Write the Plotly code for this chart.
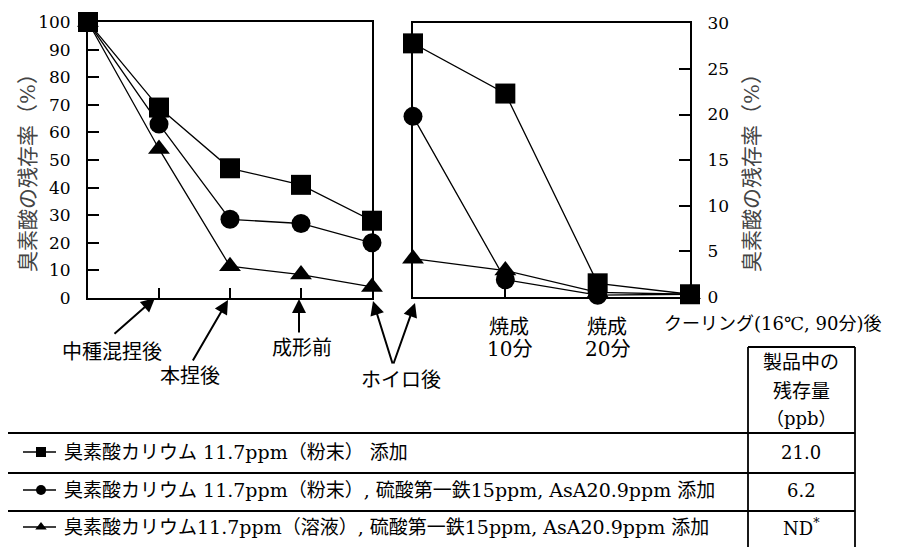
import plotly.graph_objects as go

W, H = 903, 547
OFF = 8  # page body margin in the browser

# ---------------- data ----------------
left_stages = ["添加直後", "中種混捏後", "本捏後", "成形前", "ホイロ後"]
right_stages = ["ホイロ後", "焼成10分", "焼成20分", "クーリング後"]

left_square = [100, 69, 47, 41, 28]
left_circle = [100, 63, 28.5, 27, 20]
left_triangle = [100, 54, 11.5, 8.5, 4]

right_square = [27.8, 22.3, 1.5, 0.3]
right_circle = [19.8, 1.9, 0.2, 0.3]
right_triangle = [4.2, 2.9, 0.5, 0.3]

left_ticks = [0, 10, 20, 30, 40, 50, 60, 70, 80, 90, 100]
right_ticks = [0, 5, 10, 15, 20, 25, 30]

series_labels = [
    "臭素酸カリウム 11.7ppm（粉末） 添加",
    "臭素酸カリウム 11.7ppm（粉末）, 硫酸第一鉄15ppm, AsA20.9ppm 添加",
    "臭素酸カリウム11.7ppm（溶液）, 硫酸第一鉄15ppm, AsA20.9ppm 添加",
]
residual_ppb = ["21.0", "6.2", "ND<sup>*</sup>"]
y_title = "臭素酸の残存率（%）"

# ---------------- styles ----------------
FONT = "DejaVu Serif, Noto Sans CJK JP, serif"
symbols = ["square", "circle", "triangle-up"]
sizes = [20, 19, 19]


def fx(px):
    return (px - OFF) / W


def fy(py):
    return 1 - (py - OFF) / H


fig = go.Figure()

left_series = [left_square, left_circle, left_triangle]
right_series = [right_square, right_circle, right_triangle]
order = [2, 1, 0]
for i in order:
    fig.add_trace(go.Scatter(
        x=left_stages, y=left_series[i], xaxis="x", yaxis="y",
        mode="lines+markers", cliponaxis=False,
        line=dict(color="black", width=1.3),
        marker=dict(symbol=symbols[i], size=sizes[i], color="black"),
        showlegend=False, hoverinfo="skip"))
    fig.add_trace(go.Scatter(
        x=right_stages, y=right_series[i], xaxis="x2", yaxis="y2",
        mode="lines+markers", cliponaxis=False,
        line=dict(color="black", width=1.3),
        marker=dict(symbol=symbols[i], size=sizes[i], color="black"),
        showlegend=False, hoverinfo="skip"))

# legend samples in the table (pixel overlay axes)
row_y = [452, 490, 527]
for i in range(3):
    fig.add_trace(go.Scatter(
        x=[23, 56], y=[row_y[i], row_y[i]], xaxis="x3", yaxis="y3",
        mode="lines", line=dict(color="black", width=1.5),
        showlegend=False, hoverinfo="skip", cliponaxis=False))
    fig.add_trace(go.Scatter(
        x=[41], y=[row_y[i]], xaxis="x3", yaxis="y3",
        mode="markers", marker=dict(symbol=symbols[i], size=10, color="black"),
        showlegend=False, hoverinfo="skip", cliponaxis=False))

ydom = [fy(298), fy(22)]
ydom2 = [fy(297), fy(23.3)]

axis_common = dict(showgrid=False, zeroline=False, showline=True,
                   linecolor="black", linewidth=2, mirror=True,
                   ticks="inside", tickcolor="black")

fig.update_layout(
    width=W, height=H,
    margin=dict(l=0, r=0, t=0, b=0, autoexpand=False),
    paper_bgcolor="white", plot_bgcolor="rgba(0,0,0,0)",
    font=dict(family=FONT, color="black"),
    showlegend=False,
    xaxis=dict(domain=[fx(88), fx(372)], type="category",
               categoryorder="array", categoryarray=left_stages,
               range=[0, 4], showticklabels=False, ticklen=10, tickwidth=1.5,
               anchor="y", **axis_common),
    yaxis=dict(domain=ydom, range=[0, 100], tickvals=left_ticks,
               ticklen=11, tickwidth=1.5, ticklabelstandoff=12,
               tickfont=dict(family="DejaVu Serif", size=17, color="black"),
               anchor="x", **axis_common),
    xaxis2=dict(domain=[fx(413), fx(690)], type="category",
                categoryorder="array", categoryarray=right_stages,
                range=[0, 3], showticklabels=False, ticklen=10, tickwidth=1.5,
                anchor="y2", **axis_common),
    yaxis2=dict(domain=ydom2, range=[0, 30], tickvals=right_ticks, side="right",
                ticklen=11, tickwidth=1.5, ticklabelstandoff=12,
                tickfont=dict(family="DejaVu Serif", size=17, color="black"),
                anchor="x2", **axis_common),
    xaxis3=dict(domain=[0, 1], range=[OFF, W + OFF], visible=False,
                anchor="y3", fixedrange=True),
    yaxis3=dict(domain=[0, 1], range=[H + OFF, OFF], visible=False,
                anchor="x3", fixedrange=True),
)

ann = []


def text(x, y, s, size=19, xanchor="center", color="black", angle=0):
    ann.append(dict(x=x, y=y, xref="x3", yref="y3", text=s, showarrow=False,
                    xanchor=xanchor, yanchor="middle", textangle=angle,
                    font=dict(family=FONT, size=size, color=color)))


def arrow(tip, tail):
    ann.append(dict(x=tip[0], y=tip[1], ax=tail[0], ay=tail[1],
                    xref="x3", yref="y3", axref="x3", ayref="y3",
                    text="", showarrow=True, arrowhead=2, arrowsize=1.4,
                    arrowwidth=2, arrowcolor="black"))


# axis titles
text(28, 168, y_title, size=21, color="#444", angle=-90)
text(752, 168, y_title, size=21, color="#444", angle=-90)

# stage labels with arrows
arrow((155, 298), (113, 335))
text(112, 352, left_stages[1], size=20)
arrow((228, 300), (192, 362))
text(190, 376, left_stages[2], size=20)
arrow((299, 299), (299, 334))
text(302, 348, left_stages[3], size=20)
arrow((373, 301), (393, 365))
arrow((415, 303), (393, 365))
text(401, 380, "ホイロ後", size=20)

text(509, 327, "焼成", size=20)
text(509, 349, "10分", size=20)
text(607, 327, "焼成", size=20)
text(607, 349, "20分", size=20)
text(772, 323, "クーリング(16℃, 90分)後", size=18)

# table header
text(801, 362, "製品中の", size=19)
text(801, 391, "残存量", size=19)
text(801, 418, "（ppb）", size=18)

for i in range(3):
    text(62, row_y[i], series_labels[i], size=19, xanchor="left")
    text(801, row_y[i], residual_ppb[i], size=18)

fig.update_layout(annotations=ann)

# table lines
shapes = []
lw = 1.8


def line(x0, y0, x1, y1):
    shapes.append(dict(type="line", xref="x3", yref="y3", x0=x0, y0=y0,
                       x1=x1, y1=y1, line=dict(color="black", width=lw)))


line(748, 347, 855, 347)
line(748, 347, 748, 556)
line(855, 347, 855, 556)
line(4, 433, 855, 433)
line(4, 473, 855, 473)
line(4, 511, 855, 511)
line(4, 433, 4, 556)
fig.update_layout(shapes=shapes)

fig.write_html("out.html")
